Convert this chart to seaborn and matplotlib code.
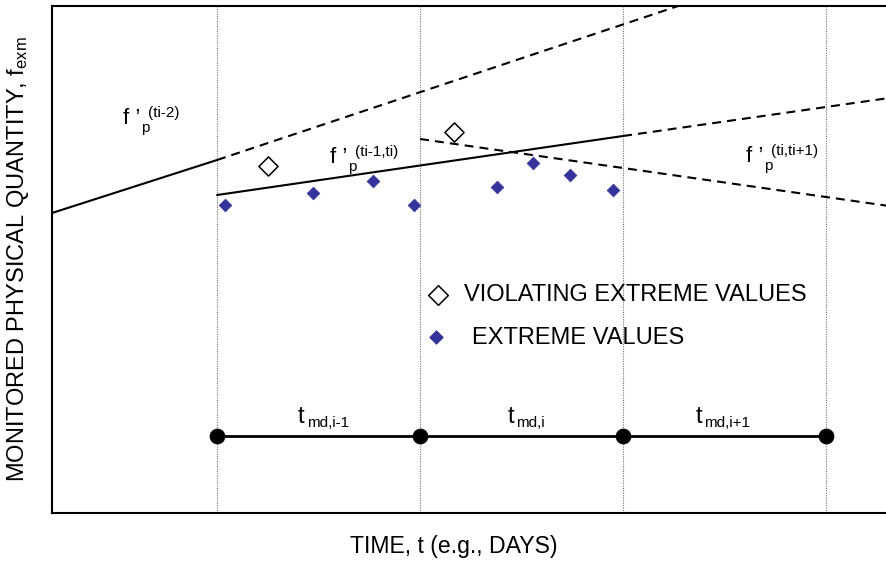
import matplotlib
matplotlib.use("Agg")
import matplotlib.pyplot as plt
import seaborn as sns
import pandas as pd

# ---------------- data (time in interval units, quantity in arbitrary units) ----------------
interval_bounds = [1.0, 2.0, 3.0, 4.0]           # t_{i-2} .. t_{i+1}
interval_subs = ["md,i-1", "md,i", "md,i+1"]
interval_label_t = [1.399, 2.429, 3.355]         # left edge of each "t" label
interval_label_v = 1.80
timeline_level = 1.54

# trend line f'_p^(ti-2): solid (fitted) part and dashed (projected) part
trend_a_solid_t = [0.187, 1.0]
trend_a_solid_v = [6.00, 7.06]
trend_a_dash_t = [1.0, 3.5]
trend_a_dash_v = [7.06, 10.45]
# trend line f'_p^(ti-1,ti)
trend_b_solid_t = [1.0, 3.0]
trend_b_solid_v = [6.36, 7.54]
trend_b_dash_t = [3.0, 4.31]
trend_b_dash_v = [7.54, 8.30]
# trend line f'_p^(ti,ti+1)
trend_c_dash_t = [2.0, 4.31]
trend_c_dash_v = [7.48, 6.14]

# extreme values
extreme_t = [1.039, 1.473, 1.768, 1.970, 2.379, 2.557, 2.739, 2.951]
extreme_v = [6.16, 6.40, 6.64, 6.16, 6.52, 7.00, 6.76, 6.46]
# violating extreme values
violating_t = [1.251, 2.167]
violating_v = [6.94, 7.62]

# curve labels: (anchor t, anchor v, superscript text)
curve_label_t = [0.537, 1.557, 3.606]
curve_label_v = [7.78, 7.00, 7.02]
curve_label_sup = ["(ti-2)", "(ti-1,ti)", "(ti,ti+1)"]

legend_labels = ["VIOLATING EXTREME VALUES", "EXTREME VALUES"]

# ---------------- styling ----------------
sns.set_theme(style="white")
plt.rcParams["font.family"] = ["Liberation Sans", "DejaVu Sans"]
plt.rcParams["mathtext.fontset"] = "custom"
plt.rcParams["mathtext.rm"] = "Liberation Sans"
plt.rcParams["mathtext.it"] = "Liberation Sans:italic"
plt.rcParams["text.color"] = "black"

BLUE = "#333399"
W, H = 887, 565
fig = plt.figure(figsize=(W / 100, H / 100), dpi=100)
ax = fig.add_axes([52 / W, (H - 513) / H, (W - 52) / W, (513 - 6) / H])
ax.set_xlim(0.187, 4.30)
ax.set_ylim(0, 10.14)

for s in ["left", "top", "bottom"]:
    ax.spines[s].set_linewidth(1.5)
    ax.spines[s].set_color("black")
ax.spines["right"].set_visible(False)
ax.set_xticks([])
ax.set_yticks([])

# vertical dotted interval boundaries
for tb in interval_bounds:
    ax.axvline(tb, color="#707070", lw=0.8, ls=(0, (1, 1.2)), zorder=1)

dash = (0, (4.3, 2.9))

def seg(t, v, ls):
    df = pd.DataFrame({"t": t, "v": v})
    sns.lineplot(data=df, x="t", y="v", ax=ax, color="black", lw=1.5,
                 linestyle=ls, sort=False, zorder=2)

seg(trend_a_solid_t, trend_a_solid_v, "-")
seg(trend_a_dash_t, trend_a_dash_v, dash)
seg(trend_b_solid_t, trend_b_solid_v, "-")
seg(trend_b_dash_t, trend_b_dash_v, dash)
seg(trend_c_dash_t, trend_c_dash_v, dash)

# extreme values
sns.scatterplot(x=extreme_t, y=extreme_v, ax=ax, marker="D", s=42,
                color=BLUE, edgecolor=BLUE, linewidth=0.5, zorder=4)
sns.scatterplot(x=violating_t, y=violating_v, ax=ax, marker="D", s=95,
                facecolor="white", edgecolor="black", linewidth=1.1, zorder=4)

# timeline
tl = pd.DataFrame({"t": interval_bounds, "v": [timeline_level] * len(interval_bounds)})
sns.lineplot(data=tl, x="t", y="v", ax=ax, color="black", lw=2, zorder=3)
sns.scatterplot(data=tl, x="t", y="v", ax=ax, marker="o", s=110,
                color="black", edgecolor="black", zorder=4)
for t0, sub in zip(interval_label_t, interval_subs):
    ax.text(t0, interval_label_v, "t", fontsize=17, ha="left", va="baseline")
    ax.annotate(sub, (t0, interval_label_v), xytext=(6.2, -3), textcoords="offset points",
                fontsize=11, ha="left", va="baseline")

# curve labels
for t0, v0, sup in zip(curve_label_t, curve_label_v, curve_label_sup):
    ax.text(t0, v0, "f \u2019", fontsize=16, ha="left", va="baseline")
    ax.annotate("p", (t0, v0), xytext=(13, -5.5), textcoords="offset points",
                fontsize=11, ha="left", va="baseline")
    ax.annotate(sup, (t0, v0), xytext=(18, 5), textcoords="offset points",
                fontsize=11, ha="left", va="baseline")

# legend drawn in place
sns.scatterplot(x=[2.089], y=[4.36], ax=ax, marker="D", s=100,
                facecolor="white", edgecolor="black", linewidth=1.1, zorder=4)
sns.scatterplot(x=[2.079], y=[3.52], ax=ax, marker="D", s=48,
                color=BLUE, edgecolor=BLUE, zorder=4)
ax.text(2.217, 4.36, legend_labels[0], fontsize=17, ha="left", va="center")
ax.text(2.256, 3.50, legend_labels[1], fontsize=17, ha="left", va="center")

ax.set_xlabel("")
ax.set_ylabel("")
fig.text(454 / W, 1 - 547 / H, "TIME, t (e.g., DAYS)", fontsize=16.6, ha="center", va="center")
fig.text(18 / W, 1 - 259 / H, r"MONITORED PHYSICAL QUANTITY, $\mathregular{f_{exm}}$",
         fontsize=17, rotation=90, ha="center", va="center")

fig.savefig("out.png", dpi=100)
